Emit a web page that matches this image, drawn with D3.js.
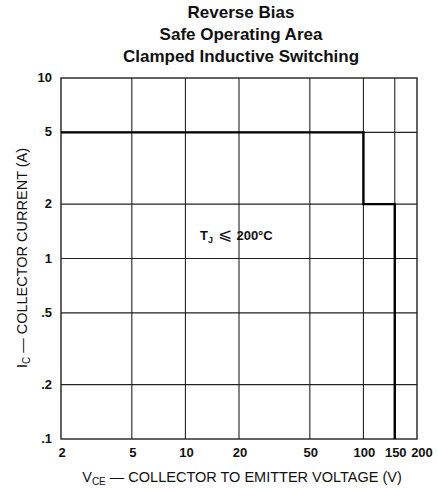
<!DOCTYPE html>
<html lang="en">
<head>
<meta charset="utf-8">
<title>Reverse Bias SOA</title>
<style>
  body { margin: 0; background: #fff; }
  .title { font-family: "Liberation Sans Narrow", "Liberation Sans", Arial, sans-serif; font-weight: bold; font-size: 17px; fill: #111; }
  .tick { font-family: "Liberation Sans", Arial, sans-serif; font-weight: bold; font-size: 13px; fill: #111; }
  .axlabel { font-family: "Liberation Sans", Arial, sans-serif; font-size: 14.5px; fill: #111; }
</style>
</head>
<body>
<script src="https://d3js.org/d3.v7.min.js"></script>
<script>
// chart data
var titleLines = ["Reverse Bias", "Safe Operating Area", "Clamped Inductive Switching"];
var xTicks = [2, 5, 10, 20, 50, 100, 150, 200];
var xTickLabels = ["2", "5", "10", "20", "50", "100", "150", "200"];
var yTicks = [0.1, 0.2, 0.5, 1, 2, 5, 10];
var yTickLabels = [".1", ".2", ".5", "1", "2", "5", "10"];
// SOA boundary (V, A)
var soaV = [2, 100, 100, 150, 150];
var soaI = [5, 5, 2, 2, 0.1];

var w = 438, h = 489;
var pLeft = 61, pRight = 417, pTop = 78, pBottom = 439;

var svg = d3.select("body").append("svg")
  .attr("width", w).attr("height", h);

var x = d3.scaleLog().domain([2, 200]).range([pLeft, pRight]);
var y = d3.scaleLog().domain([0.1, 10]).range([pBottom, pTop]);

// title
svg.selectAll("text.title")
  .data(titleLines)
  .enter().append("text")
  .attr("class", "title")
  .attr("x", 241)
  .attr("y", function(d, i) { return 18 + i * 22; })
  .attr("text-anchor", "middle")
  .text(function(d) { return d; });

// grid
svg.append("g").selectAll("line")
  .data(xTicks.slice(1, -1))
  .enter().append("line")
  .attr("x1", function(d) { return x(d); })
  .attr("x2", function(d) { return x(d); })
  .attr("y1", pTop).attr("y2", pBottom)
  .attr("stroke", "#222").attr("stroke-width", 1.1);

svg.append("g").selectAll("line")
  .data(yTicks.slice(1, -1))
  .enter().append("line")
  .attr("y1", function(d) { return y(d); })
  .attr("y2", function(d) { return y(d); })
  .attr("x1", pLeft).attr("x2", pRight)
  .attr("stroke", "#222").attr("stroke-width", 1.1);

// frame
svg.append("rect")
  .attr("x", pLeft).attr("y", pTop)
  .attr("width", pRight - pLeft).attr("height", pBottom - pTop)
  .attr("fill", "none").attr("stroke", "#222").attr("stroke-width", 1.4);

// SOA curve
var pts = soaV.map(function(v, i) { return [v, soaI[i]]; });
svg.append("path")
  .datum(pts)
  .attr("d", d3.line().x(function(d) { return x(d[0]); }).y(function(d) { return y(d[1]); }))
  .attr("fill", "none").attr("stroke", "#000").attr("stroke-width", 2.4);

// tick labels
svg.selectAll("text.xt")
  .data(xTicks)
  .enter().append("text")
  .attr("class", "tick xt")
  .attr("x", function(d) { return x(d) + (d === 200 ? 5 : 1); })
  .attr("y", 457)
  .attr("text-anchor", "middle")
  .text(function(d, i) { return xTickLabels[i]; });

svg.selectAll("text.yt")
  .data(yTicks)
  .enter().append("text")
  .attr("class", "tick yt")
  .attr("x", 52)
  .attr("y", function(d) { return y(d) + 4; })
  .attr("text-anchor", "end")
  .text(function(d, i) { return yTickLabels[i]; });

// axis titles
var xl = svg.append("text").attr("class", "axlabel")
  .attr("x", 242).attr("y", 482).attr("text-anchor", "middle");
xl.append("tspan").text("V");
xl.append("tspan").attr("font-size", "10px").attr("dy", 3).text("CE");
xl.append("tspan").attr("dy", -3).text(" \u2014 COLLECTOR TO EMITTER VOLTAGE (V)");

var yl = svg.append("text").attr("class", "axlabel")
  .attr("transform", "translate(27,258) rotate(-90)")
  .attr("text-anchor", "middle");
yl.append("tspan").text("I");
yl.append("tspan").attr("font-size", "10px").attr("dy", 3).text("C");
yl.append("tspan").attr("dy", -3).text(" \u2014 COLLECTOR CURRENT (A)");

// junction temp note
var tj = svg.append("text").attr("class", "tick")
  .attr("x", 200).attr("y", 240).attr("font-size", "14px");
tj.append("tspan").text("T");
tj.append("tspan").attr("font-size", "9px").attr("dy", 3).text("J");
tj.append("tspan").attr("dy", -3).attr("font-size", "17px").attr("font-weight", "normal").text(" \u2A7D ");
tj.append("tspan").text("200\u00B0C");
</script>
</body>
</html>
